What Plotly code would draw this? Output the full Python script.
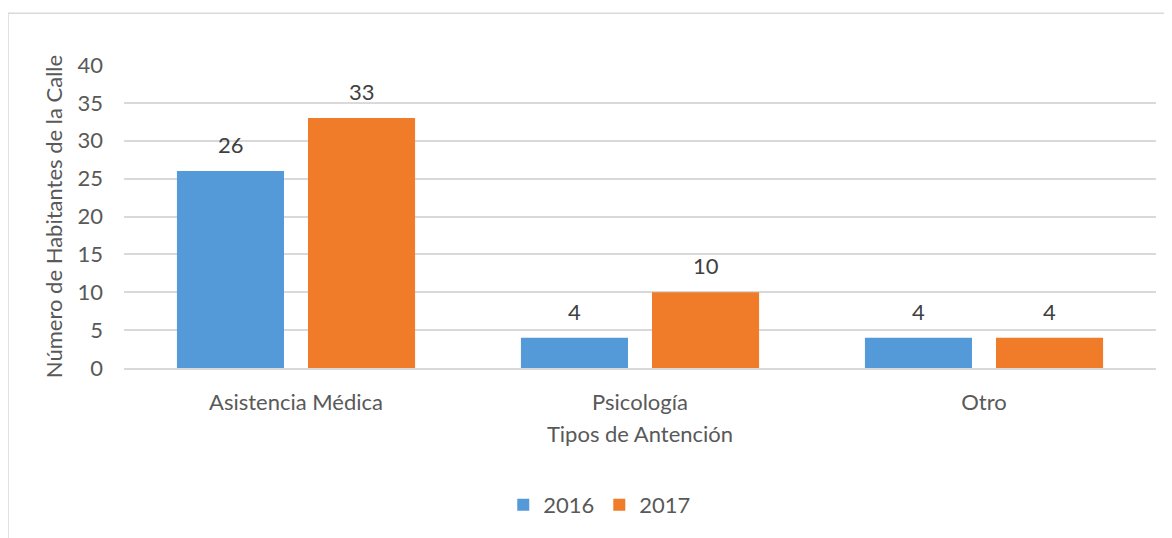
import plotly.graph_objects as go

categories = ["Asistencia Médica", "Psicología", "Otro"]
series_names = ["2016", "2017"]
values_2016 = [26, 4, 4]
values_2017 = [33, 10, 4]
y_ticks = [0, 5, 10, 15, 20, 25, 30, 35, 40]

colors = ["#559ad8", "#f07b29"]
FONT = "Lato, 'Noto Sans', sans-serif"
TXT = "#595959"
FS = 22

# page body adds an 8px offset, so figure is sized to fit the window
W, H = 1164, 530
L, R, T, B = 116, 16, 57, 168
pw, ph = W - L - R, H - T - B

fig = go.Figure()
for name, vals, col in zip(series_names, [values_2016, values_2017], colors):
    fig.add_trace(go.Bar(
        name=name, x=categories, y=vals,
        marker=dict(color=col, line=dict(width=0)),
        hoverinfo="x+y+name",
    ))

# data labels
offsets = [-65.5, 65.5]
for vals, dx in zip([values_2016, values_2017], offsets):
    for c, v in zip(categories, vals):
        fig.add_annotation(x=c, y=v, text=str(v), showarrow=False,
                           xshift=dx, yshift=11, yanchor="bottom",
                           font=dict(family=FONT, size=FS, color="#404040"))

# outer chart border
fig.add_shape(type="rect", xref="paper", yref="paper",
              x0=(0 - L) / pw, x1=(W + 20 - L) / pw,
              y0=(H - B - (H + 20)) / ph, y1=(H - B - 5) / ph,
              line=dict(color="#d9d9d9", width=1.5), fillcolor="rgba(0,0,0,0)",
              layer="below")

fig.update_layout(
    width=W, height=H,
    margin=dict(l=L, r=R, t=T, b=B),
    paper_bgcolor="white", plot_bgcolor="white",
    barmode="group", bargap=0.238, bargroupgap=0.183,
    font=dict(family=FONT, size=FS, color=TXT),
    showlegend=True,
    legend=dict(orientation="h", x=0.461, xanchor="center", y=-0.452, yanchor="middle",
                font=dict(family=FONT, size=FS, color=TXT),
                itemwidth=30, traceorder="normal"),
    xaxis=dict(
        showgrid=False, showline=True, linecolor="#d9d9d9", linewidth=1.5,
        ticks="", tickfont=dict(family=FONT, size=FS, color=TXT), ticklabelstandoff=14,
        title=dict(text="Tipos de Antención", font=dict(family=FONT, size=FS, color=TXT), standoff=12),
    ),
    yaxis=dict(
        range=[0, 40], tickvals=y_ticks, showgrid=True, gridcolor="#d9d9d9", gridwidth=1.5,
        zeroline=False, showline=False, ticks="",
        tickfont=dict(family=FONT, size=FS, color=TXT), ticklabelstandoff=20,
        title=dict(text="Número de Habitantes de la Calle", font=dict(family=FONT, size=FS, color=TXT), standoff=8),
    ),
)

fig.write_html("out.html")
